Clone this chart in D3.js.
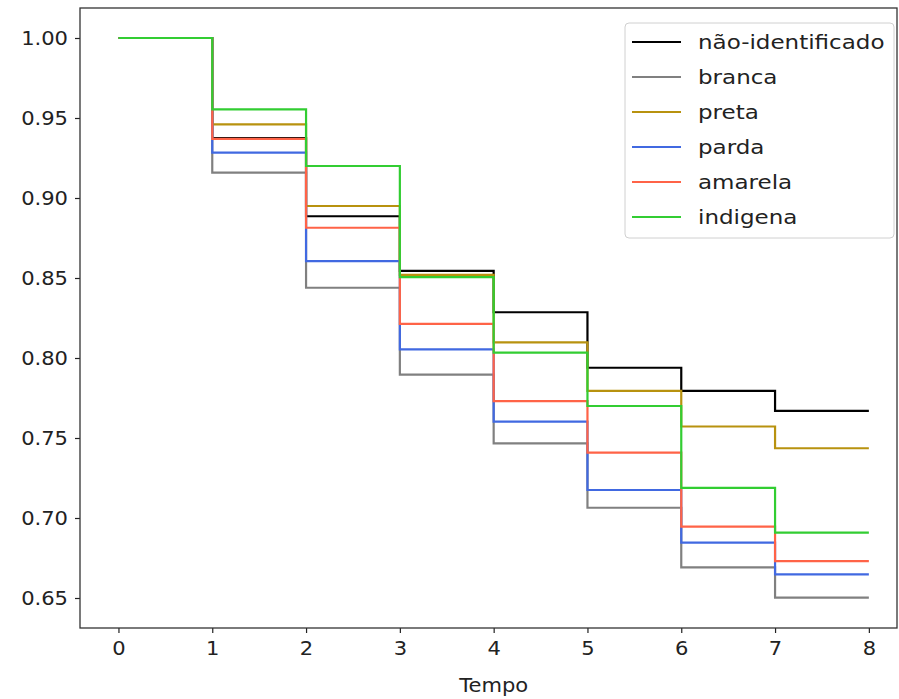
<!DOCTYPE html>
<html>
<head>
<meta charset="utf-8">
<script src="https://cdn.jsdelivr.net/npm/d3@7"></script>
<style>
  body { margin: 0; background: #fff; }
  text { font-family: "DejaVu Sans", sans-serif; fill: #222; }
</style>
</head>
<body>
<div id="chart"></div>
<script>
// survival curves (step, post)
var times = [0, 1, 2, 3, 4, 5, 6, 7, 8];
var groups = ["não-identificado", "branca", "preta", "parda", "amarela", "indigena"];
var colors = ["#000000", "#808080", "#b8920f", "#4169e1", "#ff6347", "#32cd32"];

var naoIdentificado = [1.0, 0.9375, 0.8886, 0.8544, 0.8286, 0.7939, 0.7794, 0.7669, 0.7669];
var branca          = [1.0, 0.9159, 0.8439, 0.7896, 0.7467, 0.7064, 0.6692, 0.6502, 0.6502];
var preta           = [1.0, 0.9460, 0.8950, 0.8520, 0.8098, 0.7794, 0.7572, 0.7436, 0.7436];
var parda           = [1.0, 0.9284, 0.8606, 0.8054, 0.7602, 0.7175, 0.6846, 0.6648, 0.6648];
var amarela         = [1.0, 0.9370, 0.8814, 0.8213, 0.7731, 0.7408, 0.6946, 0.6731, 0.6731];
var indigena        = [1.0, 0.9554, 0.9200, 0.8505, 0.8033, 0.7700, 0.7188, 0.6908, 0.6908];

var xTicks = [0, 1, 2, 3, 4, 5, 6, 7, 8];
var yTicks = [0.65, 0.70, 0.75, 0.80, 0.85, 0.90, 0.95, 1.00];

var seriesValues = [naoIdentificado, branca, preta, parda, amarela, indigena];

var W = 899, H = 699;
var margin = {top: 8, right: 2, bottom: 71, left: 80},
    width = W - margin.left - margin.right,
    height = H - margin.top - margin.bottom;

// text in the picture is a little wider than plain DejaVu
var stretch = "scale(1.08,1)";

var svg = d3.select("#chart").append("svg")
    .attr("width", W)
    .attr("height", H);

var g = svg.append("g")
    .attr("transform", "translate(" + margin.left + "," + margin.top + ")");

var x = d3.scaleLinear().domain([-0.41, 8.3]).range([0, width]);
var y = d3.scaleLinear().domain([0.63125, 1.01875]).range([height, 0]);

// step lines
var line = d3.line()
    .x(function(d) { return x(d[0]); })
    .y(function(d) { return y(d[1]); })
    .curve(d3.curveStepAfter);

seriesValues.forEach(function(vals, i) {
    var pts = times.map(function(t, j) { return [t, vals[j]]; });
    g.append("path")
        .datum(pts)
        .attr("d", line)
        .attr("fill", "none")
        .attr("stroke", colors[i])
        .attr("stroke-width", 2.2);
});

// axes
var xAxis = g.append("g")
    .attr("transform", "translate(0," + height + ")")
    .call(d3.axisBottom(x).tickValues(xTicks).tickFormat(d3.format("d")).tickSize(5).tickPadding(8));
var yAxis = g.append("g")
    .call(d3.axisLeft(y).tickValues(yTicks).tickFormat(d3.format(".2f")).tickSize(5).tickPadding(6));

[xAxis, yAxis].forEach(function(a) {
    a.select(".domain").remove();
    a.selectAll("line").attr("stroke", "#222").attr("stroke-width", 1.2);
    a.selectAll("text").style("font-size", "19.5px").attr("fill", "#222");
});
xAxis.selectAll("text").attr("transform", stretch);
yAxis.selectAll("text").attr("x", 0).attr("transform", "translate(-12,0) " + stretch);

// frame
g.append("rect")
    .attr("width", width)
    .attr("height", height)
    .attr("fill", "none")
    .attr("stroke", "#333")
    .attr("stroke-width", 1.3);

svg.append("text")
    .attr("transform", "translate(" + (x(4) + margin.left) + ",692) " + stretch)
    .attr("text-anchor", "middle")
    .style("font-size", "19.5px")
    .text("Tempo");

// legend
var legend = svg.append("g").attr("transform", "translate(625,23)");
legend.append("rect")
    .attr("width", 269)
    .attr("height", 215)
    .attr("rx", 4)
    .attr("fill", "#fff")
    .attr("fill-opacity", 0.85)
    .attr("stroke", "#d0d0d0");

groups.forEach(function(name, i) {
    var cy = 19 + i * 35;
    legend.append("line")
        .attr("x1", 7).attr("x2", 56)
        .attr("y1", cy).attr("y2", cy)
        .attr("stroke", colors[i])
        .attr("stroke-width", 2.2);
    legend.append("text")
        .attr("transform", "translate(73," + cy + ") scale(1.18,1)")
        .attr("dy", "0.35em")
        .style("font-size", "19.5px")
        .text(name);
});
</script>
</body>
</html>
